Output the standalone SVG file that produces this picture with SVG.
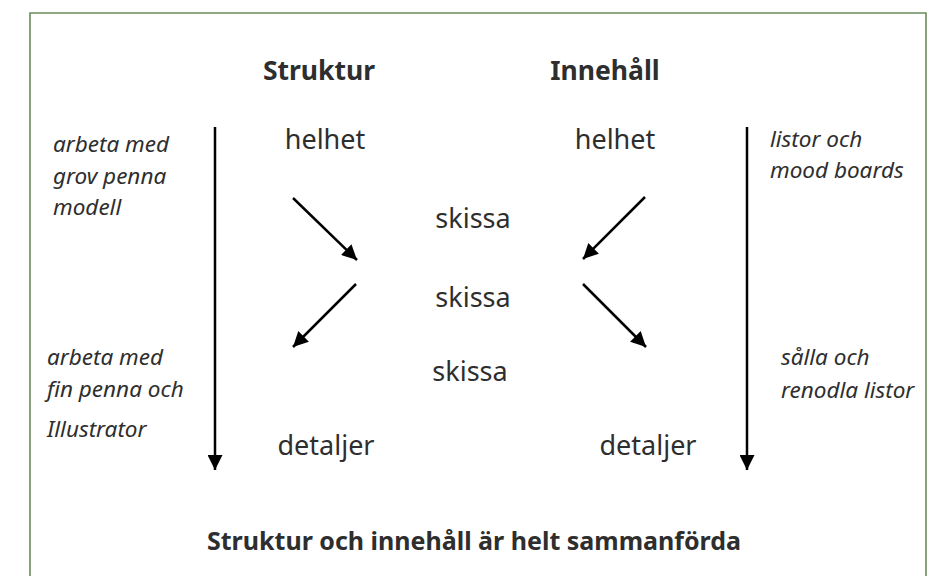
<svg xmlns="http://www.w3.org/2000/svg" width="951" height="576" viewBox="0 0 951 576">
<defs>
<marker id="ah" viewBox="0 0 10 10" refX="10" refY="5" markerWidth="6" markerHeight="6" markerUnits="strokeWidth" orient="auto">
<path d="M0,0 L10,5 L0,10 z" fill="#000"/>
</marker>
<style>
.t{font-family:"Noto Sans","Open Sans",sans-serif;fill:#2e2e2e;}
.h{font-size:26.5px;font-weight:bold;}
.n{font-size:27px;}
.i{font-size:22.5px;font-style:italic;}
.b{font-size:25px;font-weight:bold;}
.c{stroke:#000;stroke-width:2.5;fill:none;marker-end:url(#ah);}
</style>
</defs>
<rect width="951" height="576" fill="#fff"/>
<path d="M30,590 V13 H926 V590" fill="none" stroke="#6b8c5c" stroke-width="1.6"/>
<g id="head-struktur"><text class="t h" x="319" y="80" text-anchor="middle">Struktur</text></g>
<g id="head-innehall"><text class="t h" x="605" y="80" text-anchor="middle">Innehåll</text></g>
<g id="helhet-left"><text class="t n" x="325" y="149" text-anchor="middle">helhet</text></g>
<g id="helhet-right"><text class="t n" x="615" y="149" text-anchor="middle">helhet</text></g>
<g id="skissa1"><text class="t n" x="473" y="228" text-anchor="middle">skissa</text></g>
<g id="skissa2"><text class="t n" x="473" y="307" text-anchor="middle">skissa</text></g>
<g id="skissa3"><text class="t n" x="470" y="381" text-anchor="middle">skissa</text></g>
<g id="detaljer-left"><text class="t n" x="326" y="455" text-anchor="middle">detaljer</text></g>
<g id="detaljer-right"><text class="t n" x="648" y="455" text-anchor="middle">detaljer</text></g>
<g id="note-left-top"><text class="t i" x="53" y="152">arbeta med</text><text class="t i" x="53" y="184">grov penna</text><text class="t i" x="53" y="215">modell</text></g>
<g id="note-left-bottom"><text class="t i" x="47" y="365">arbeta med</text><text class="t i" x="47" y="397">fin penna och</text><text class="t i" x="47" y="437">Illustrator</text></g>
<g id="note-right-top"><text class="t i" x="770" y="147">listor och</text><text class="t i" x="770" y="178">mood boards</text></g>
<g id="note-right-bottom"><text class="t i" x="781" y="365">sålla och</text><text class="t i" x="781" y="398">renodla listor</text></g>
<g id="summary"><text class="t b" x="474" y="550" text-anchor="middle">Struktur och innehåll är helt sammanförda</text></g>
<g id="connectors">
<line class="c" x1="215" y1="127" x2="215" y2="470"/>
<line class="c" x1="747" y1="127" x2="747" y2="470"/>
<line class="c" x1="293" y1="198" x2="357" y2="260"/>
<line class="c" x1="645" y1="197" x2="583" y2="259"/>
<line class="c" x1="356" y1="284" x2="293" y2="347"/>
<line class="c" x1="583" y1="284" x2="646" y2="347"/>
</g>
</svg>
